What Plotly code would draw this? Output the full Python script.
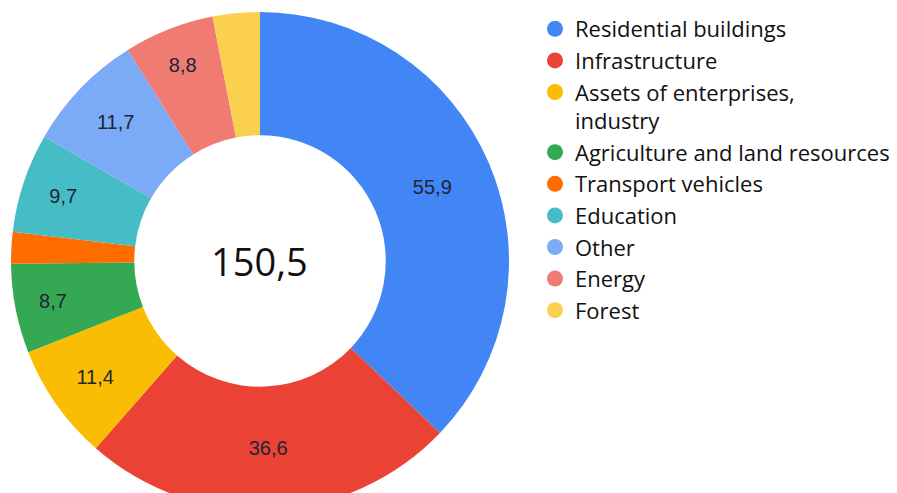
import plotly.graph_objects as go

# damage by sector
sectors = ["Residential buildings", "Infrastructure", "Assets of enterprises,<br>industry",
           "Agriculture and land resources", "Transport vehicles", "Education",
           "Other", "Energy", "Forest"]
values = [55.9, 36.6, 11.4, 8.7, 3.1, 9.7, 11.7, 8.8, 4.6]
total_label = "150,5"
colors = ["#4285F4", "#EA4335", "#FBBC04", "#34A853", "#FF6D01",
          "#46BDC6", "#7BAAF7", "#F07B72", "#FCD04F"]

W, H = 897, 510  # bottom of the ring runs off the page, as in the original

# small slices get no label
templates = ["%{value:.1f}" if v > 5 else "" for v in values]

fig = go.Figure()
fig.add_trace(go.Pie(
    labels=sectors, values=values, sort=False, direction="clockwise", rotation=0,
    hole=0.505, marker=dict(colors=colors, line=dict(width=0)),
    texttemplate=templates, textposition="inside", insidetextorientation="horizontal",
    textfont=dict(family="Liberation Sans, Arial", size=20, color="#1e2533"),
    showlegend=False, hoverinfo="label+value",
    domain=dict(x=[3 / W, 501 / W], y=[1 - 502 / H, 1 - 4 / H]),
))

# legend entries with round markers
for i, (name, col) in enumerate(zip(sectors, colors)):
    fig.add_trace(go.Scatter(
        x=[None], y=[None], mode="markers", name=name, legendgroup=f"g{i}",
        marker=dict(symbol="circle", size=16, color=col),
    ))

fig.add_annotation(text=total_label, x=252 / W, y=1 - 253 / H, xref="paper", yref="paper",
                   xanchor="center", yanchor="middle", showarrow=False,
                   font=dict(family="Open Sans", size=38, color="#111111"))

fig.update_layout(
    width=W, height=H, margin=dict(l=0, r=0, t=0, b=0),
    paper_bgcolor="white", plot_bgcolor="white", separators=", ",
    xaxis=dict(visible=False), yaxis=dict(visible=False),
    legend=dict(x=527 / W, y=1, xanchor="left", yanchor="top",
                font=dict(family="Open Sans", size=22, color="#111111"),
                tracegroupgap=0, valign="top", itemsizing="trace"),
)

fig.write_html("out.html")
